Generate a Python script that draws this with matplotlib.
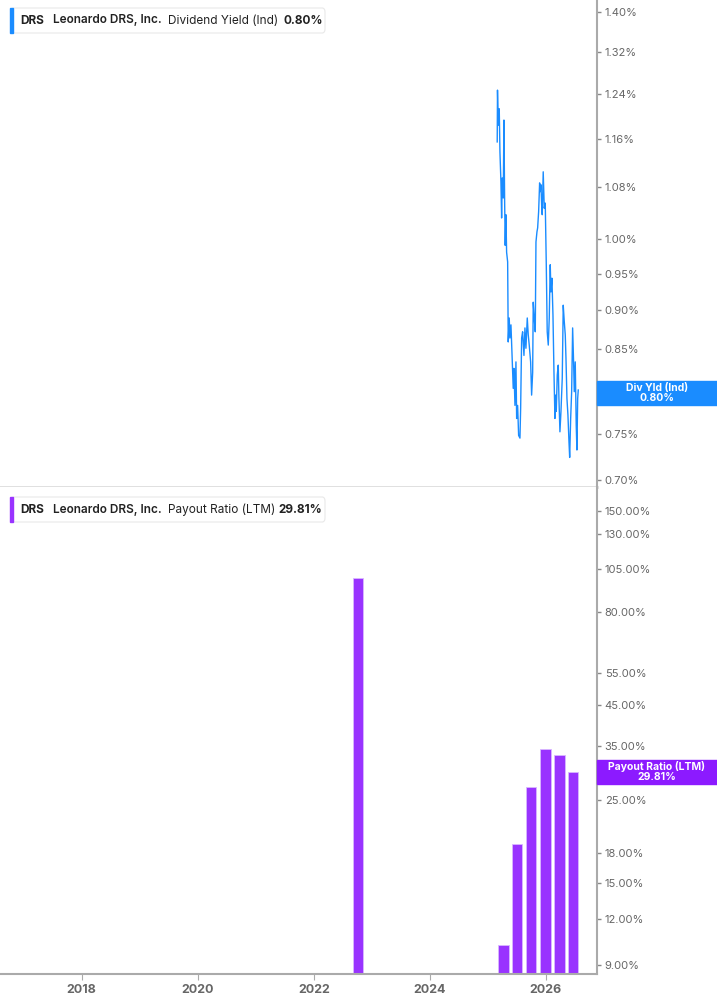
import matplotlib
matplotlib.use("Agg")
import matplotlib.pyplot as plt
from matplotlib.patches import Rectangle, FancyBboxPatch

plt.rcParams['font.family'] = ['Inter', 'DejaVu Sans']

# dividend yield (Ind), % -- decimal year / value
yld_dates = [2025.160, 2025.165, 2025.178, 2025.195, 2025.207, 2025.224, 2025.236, 2025.247,
             2025.264, 2025.276, 2025.288, 2025.298, 2025.310, 2025.322, 2025.340, 2025.350,
             2025.367, 2025.379, 2025.397, 2025.414, 2025.436, 2025.448, 2025.466, 2025.483,
             2025.495, 2025.512, 2025.529, 2025.552, 2025.564, 2025.581, 2025.598, 2025.621,
             2025.638, 2025.655, 2025.678, 2025.695, 2025.712, 2025.736, 2025.753, 2025.771,
             2025.781, 2025.798, 2025.816, 2025.828, 2025.845, 2025.857, 2025.874, 2025.891,
             2025.902, 2025.914, 2025.926, 2025.936, 2025.953, 2025.971, 2025.988, 2026.005,
             2026.022, 2026.040, 2026.057, 2026.074, 2026.086, 2026.103, 2026.121, 2026.138,
             2026.155, 2026.167, 2026.178, 2026.195, 2026.212, 2026.224, 2026.241, 2026.259,
             2026.281, 2026.298, 2026.316, 2026.333, 2026.345, 2026.362, 2026.379, 2026.397,
             2026.409, 2026.426, 2026.443, 2026.460, 2026.478, 2026.488, 2026.505, 2026.522,
             2026.534, 2026.547, 2026.557]
yld_vals = [1.155, 1.247, 1.184, 1.213, 1.138, 1.089, 1.032, 1.095,
            1.063, 1.193, 1.057, 0.991, 1.037, 0.981, 0.967, 0.859,
            0.890, 0.864, 0.881, 0.846, 0.802, 0.826, 0.782, 0.834,
            0.767, 0.782, 0.748, 0.745, 0.779, 0.864, 0.872, 0.842,
            0.877, 0.851, 0.890, 0.868, 0.855, 0.834, 0.794, 0.821,
            0.911, 0.890, 0.872, 0.996, 1.011, 1.017, 1.042, 1.087,
            1.073, 1.084, 1.052, 1.037, 1.105, 1.047, 1.055, 0.967,
            0.872, 0.855, 0.890, 0.963, 0.925, 0.944, 0.894, 0.822,
            0.767, 0.794, 0.775, 0.818, 0.830, 0.790, 0.752, 0.775,
            0.814, 0.907, 0.885, 0.868, 0.839, 0.790, 0.771, 0.741,
            0.724, 0.767, 0.798, 0.877, 0.830, 0.798, 0.834, 0.759,
            0.732, 0.790, 0.800]

# payout ratio (LTM), %
pay_dates = [2022.76, 2025.27, 2025.50, 2025.74, 2025.99, 2026.23, 2026.47]
pay_vals = [99.0, 10.2, 19.1, 27.1, 34.4, 33.1, 29.81]

yld_ticks = [0.70, 0.75, 0.80, 0.85, 0.90, 0.95, 1.00, 1.08, 1.16, 1.24, 1.32, 1.40]
pay_ticks = [9, 12, 15, 18, 25, 35, 45, 55, 80, 105, 130, 150]
year_ticks = [2018, 2020, 2022, 2024, 2026]

blue = '#1a8cff'
purple = '#9933ff'
grey = '#666666'
W, H = 717, 1005

fig = plt.figure(figsize=(W / 100, H / 100), dpi=100)
ax1 = fig.add_axes([0, 1 - 487 / H, 597 / W, 487 / H])
ax2 = fig.add_axes([0, 1 - 974 / H, 597 / W, 487 / H])


def style(ax):
    ax.set_yscale('log')
    ax.yaxis.tick_right()
    ax.minorticks_off()
    for s in ['left', 'top']:
        ax.spines[s].set_visible(False)
    ax.spines['right'].set_color('#aaaaaa')
    ax.spines['right'].set_linewidth(1.5)
    ax.tick_params(axis='y', length=3, width=1, color='#888888', pad=2.5,
                   labelsize=8, labelcolor=grey)
    ax.set_xlim(2016.59, 2026.88)


style(ax1)
ax1.plot(yld_dates, yld_vals, color=blue, lw=1.0)
ax1.set_ylim(0.693, 1.425)
ax1.set_yticks(yld_ticks)
# the 0.80% label sits under the end-value tag
ax1.set_yticklabels(['' if t == 0.80 else '%.2f%%' % t for t in yld_ticks])
ax1.set_xticks([])
ax1.spines['bottom'].set_color('#dddddd')
ax1.spines['bottom'].set_linewidth(2)

style(ax2)
ax2.bar(pay_dates, pay_vals, width=0.18, color=purple, edgecolor='#d9b8ff', linewidth=0.6)
ax2.set_ylim(8.51, 174)
ax2.set_yticks(pay_ticks)
ax2.set_yticklabels(['%.2f%%' % t for t in pay_ticks])
ax2.set_xticks(year_ticks)
ax2.set_xticklabels([str(y) for y in year_ticks], fontweight='bold')
ax2.spines['bottom'].set_color('#aaaaaa')
ax2.spines['bottom'].set_linewidth(1.5)
ax2.tick_params(axis='x', length=4, color='#aaaaaa', labelsize=9, labelcolor=grey, pad=3)


def header(top, color, label, value):
    box = FancyBboxPatch((11 / W, 1 - (top + 25) / H), 314 / W, 25 / H,
                         boxstyle='round,pad=0,rounding_size=0.004',
                         transform=fig.transFigure, fc='white', ec='#e8e8e8', lw=0.8)
    fig.patches.append(box)
    fig.patches.append(Rectangle((10 / W, 1 - (top + 25) / H), 3 / W, 25 / H,
                                 transform=fig.transFigure, color=color))
    yc = 1 - (top + 12.5) / H
    fig.text(20 / W, yc, 'DRS', fontsize=8.5, fontweight='bold', color='#222222', va='center')
    fig.text(53 / W, yc, 'Leonardo DRS, Inc.', fontsize=8.5, fontweight='semibold', color='#222222', va='center')
    fig.text(168 / W, yc, label, fontsize=8.5, color='#222222', va='center')
    fig.text(value[1] / W, yc, value[0], fontsize=8.5, fontweight='bold', color='#222222', va='center')


header(8, blue, 'Dividend Yield (Ind)', ('0.80%', 283))
header(497, purple, 'Payout Ratio (LTM)', ('29.81%', 278))


def end_label(ax, val, color, text, shift=0):
    fig.canvas.draw()
    yfig = fig.transFigure.inverted().transform(ax.transData.transform((2026, val)))[1] - shift / H
    fig.patches.append(Rectangle((597 / W, yfig - 12 / H), 120 / W, 24 / H,
                                 transform=fig.transFigure, color=color, zorder=5))
    fig.text(657 / W, yfig, text, ha='center', va='center', fontsize=7.5,
             fontweight='bold', color='white', linespacing=1.0, zorder=6)


end_label(ax1, 0.80, blue, 'Div Yld (Ind)\n0.80%', shift=3)
end_label(ax2, 29.81, '#8c1aff', 'Payout Ratio (LTM)\n29.81%')

fig.savefig('out.png', dpi=100)
